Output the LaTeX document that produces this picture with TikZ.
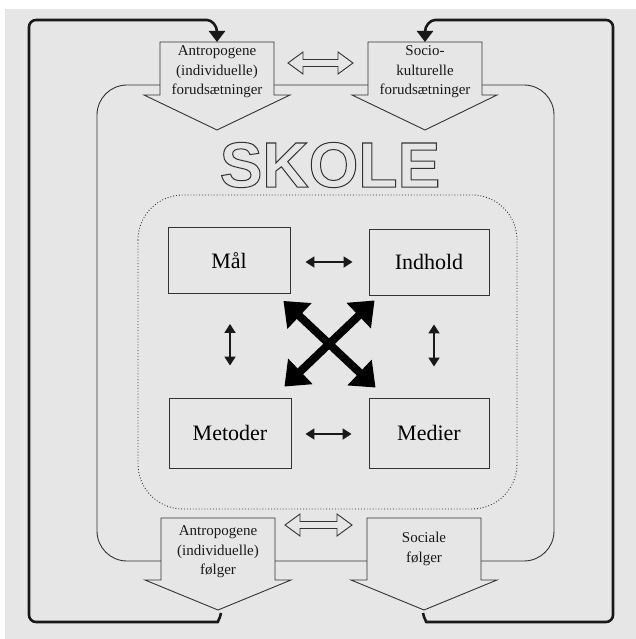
\documentclass[tikz,border=0pt]{standalone}
\usepackage{fontspec}
\setmainfont{Liberation Serif}
\newfontfamily\skolefont{Liberation Sans}
\usetikzlibrary{arrows.meta,calc}
\definecolor{scan}{HTML}{E6E6E6}
\definecolor{ink}{HTML}{333333}
\newcommand{\outlined}[1]{\special{pdf:literal direct 1 Tr 1.0 w}#1\special{pdf:literal direct 0 Tr 0.4 w}}
\begin{document}
\begin{tikzpicture}[x=1pt,y=-1pt,
  frame/.style={line width=2.6pt, draw=black!90, line join=round, rounded corners=7pt},
  thinline/.style={line width=0.9pt, draw=ink},
  blockarrow/.style={thinline, fill=scan, line join=miter},
  box/.style={draw=ink, line width=0.9pt, minimum width=122pt, minimum height=66pt, inner sep=0pt, font=\fontsize{22}{26}\selectfont},
  lbl/.style={align=center, inner sep=0pt, font=\fontsize{15}{19.5}\selectfont, text=black!90},
  smallarrow/.style={line width=1.8pt, draw=black!90, {Triangle[length=9pt,width=11pt]}-{Triangle[length=9pt,width=11pt]}},
  bigarrow/.style={line width=8pt, draw=black, {Triangle[length=22pt,width=34pt]}-{Triangle[length=22pt,width=34pt]}},
  framehead/.style={-{Triangle[length=11pt,width=16pt]}},
]
\useasboundingbox (0,0) rectangle (636,639);
\fill[white] (0,0) rectangle (636,639);
\fill[scan] (5,9) rectangle (636,639);

% inner solid rounded rectangle and dotted inner field
\draw[thinline, rounded corners=30pt] (97,85) rectangle (554,561);
\draw[ink, line width=0.9pt, dotted, rounded corners=45pt] (138,195) rectangle (517,509);

% top block arrows
\draw[blockarrow] (160,42) -- (274,42) -- (274,95) -- (290,95) -- (217,130) -- (144,95) -- (160,95) -- cycle;
\draw[blockarrow] (368,42) -- (482,42) -- (482,95) -- (497,95) -- (425,130) -- (352,95) -- (368,95) -- cycle;
\node[lbl] (tl) at (217,72) {Antropogene\\(individuelle)\\forudsætninger};
\node[lbl] (tr) at (425,72) {Socio-\\kulturelle\\forudsætninger};

% bottom block arrows
\draw[blockarrow] (161,518) -- (275,518) -- (275,580) -- (291,580) -- (218,610) -- (145,580) -- (161,580) -- cycle;
\draw[blockarrow] (367,518) -- (481,518) -- (481,580) -- (497,580) -- (424,610) -- (351,580) -- (367,580) -- cycle;
\node[lbl] (bl) at (218,552) {Antropogene\\(individuelle)\\følger};
\node[lbl] (br) at (424,549) {Sociale\\følger};

% hollow double arrows
\draw[thinline, fill=scan] (288,63) -- (303,52) -- (303,59.5) -- (338,59.5) -- (338,52) -- (353,63) -- (338,74) -- (338,66.5) -- (303,66.5) -- (303,74) -- cycle;
\draw[thinline, fill=scan] (285,525) -- (300,514) -- (300,521.5) -- (337,521.5) -- (337,514) -- (352,525) -- (337,536) -- (337,528.5) -- (300,528.5) -- (300,536) -- cycle;

% SKOLE
\node[inner sep=0pt, font=\skolefont\bfseries\fontsize{64}{64}\selectfont, text=ink] (skole) at (330,165) {\outlined{SKOLE}};

% boxes
\node[box] (mal) at (229,260.5) {Mål};
\node[box, minimum width=120pt] (indhold) at (429,262) {Indhold};
\node[box, minimum height=70pt] (metoder) at (230,433) {Metoder};
\node[box, minimum width=120pt, minimum height=70pt] (medier) at (429,433) {Medier};

% small arrows
\draw[smallarrow] ($(mal.east)+(15,1.5)$) -- ($(indhold.west)+(-16,0)$);
\draw[smallarrow] ($(metoder.east)+(14,1)$) -- ($(medier.west)+(-17,1)$);
\draw[smallarrow] ($(mal.south)+(1,30)$) -- ($(metoder.north)+(0,-32)$);
\draw[smallarrow] ($(indhold.south)+(5,29)$) -- ($(medier.north)+(5,-31)$);

% big cross
\draw[bigarrow] ($(mal.south east)+(-7,7)$) -- ($(medier.north west)+(7,-10)$);
\draw[bigarrow] ($(indhold.south west)+(6,5)$) -- ($(metoder.north east)+(-7,-11)$);

% outer frame with curved arrows
\draw[frame, framehead] (221,613) .. controls (220,619) and (217,622) .. (211,622) -- (29,622) -- (29,20) -- (200,20) .. controls (212,20) and (217,26) .. (217,42);
\draw[frame, framehead] (423,613) .. controls (424,619) and (427,622) .. (433,622) -- (613,622) -- (613,20) -- (442,20) .. controls (430,20) and (425,26) .. (425,42);
\end{tikzpicture}
\end{document}
